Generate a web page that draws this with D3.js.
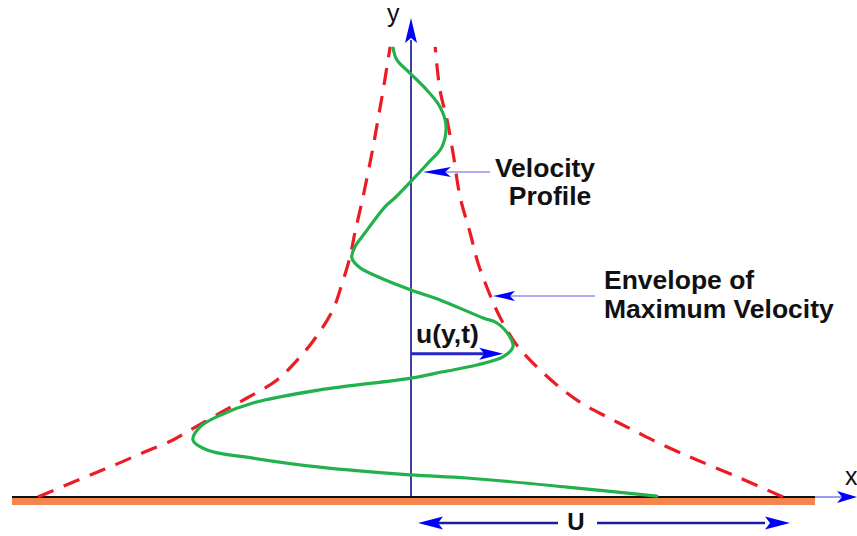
<!DOCTYPE html>
<html>
<head>
<meta charset="utf-8">
<script src="https://cdn.jsdelivr.net/npm/d3@7"></script>
<style>
html,body{margin:0;padding:0;background:#fff;}
svg{display:block;}
text{font-family:"Liberation Sans",Arial,sans-serif;}
</style>
</head>
<body>
<svg id="chart" width="857" height="536"></svg>
<script>
// ---- data (u in units of U, eta = height above the plate, arbitrary units) ----
const profileU   = [-0.048,-0.038,-0.003,0.043,0.078,0.094,0.083,0.046,0.003,-0.043,-0.070,-0.124,-0.151,-0.159,-0.137,-0.083,0.000,0.078,0.194,0.231,0.266,0.274,0.247,0.177,0.086,0.000,-0.245,-0.425,-0.513,-0.567,-0.586,-0.548,-0.425,-0.245,-0.003,0.151,0.419,0.661];
const profileEta = [9.93,9.67,9.38,9.00,8.63,8.23,7.74,7.39,7.01,6.62,6.42,5.84,5.53,5.29,5.07,4.85,4.58,4.36,3.96,3.85,3.54,3.32,3.10,2.92,2.77,2.63,2.37,2.08,1.81,1.55,1.26,1.04,0.86,0.66,0.49,0.42,0.22,0.02];

const envLeftU    = [-1.003,-0.876,-0.796,-0.715,-0.640,-0.594,-0.513,-0.441,-0.360,-0.298,-0.255,-0.210,-0.185,-0.164,-0.151,-0.129,-0.105,-0.089,-0.075,-0.056];
const envLeftEta  = [0,0.44,0.71,1.00,1.26,1.48,1.86,2.19,2.59,3.10,3.54,4.14,4.73,5.31,5.84,6.64,7.61,8.34,9.00,9.96];
const envRightU   = [1.000,0.884,0.769,0.677,0.597,0.527,0.454,0.392,0.320,0.280,0.239,0.207,0.180,0.159,0.132,0.113,0.097,0.078,0.065];
const envRightEta = [0,0.42,0.82,1.15,1.48,1.77,2.10,2.48,3.03,3.41,3.98,4.58,5.18,5.84,6.64,7.61,8.34,9.00,9.96];

// sample velocity u(y,t) shown by the arrow
const sampleU = [0.248];
const sampleEta = [3.17];

const labelVelocity = ["Velocity","Profile"];
const labelEnvelope = ["Envelope of","Maximum Velocity"];
const labelSample = "u(y,t)";
const labelU = "U";
const axisNames = ["x","y"];

// ---- drawing ----
const svg = d3.select("#chart");
const x = d3.scaleLinear().domain([0,1]).range([411,783]);
const y = d3.scaleLinear().domain([0,10]).range([497,45]);

const BLUE = "#0000ff", NAVY = "#000080", THIN = "#5a5ae6";
const FS = 26.5;

function arrowHead(g, tx, ty, angle, L, W, n, color){
  g.append("path")
    .attr("d", `M0,0 L${-L},${-W} L${-L+n},0 L${-L},${W} Z`)
    .attr("transform", `translate(${tx},${ty}) rotate(${angle})`)
    .attr("fill", color);
}

// plate
svg.append("rect").attr("x",12).attr("y",y(0)).attr("width",815-12).attr("height",8).attr("fill","#f4854c");
svg.append("line").attr("x1",12).attr("x2",815).attr("y1",y(0)).attr("y2",y(0)).attr("stroke","#111").attr("stroke-width",2);
// x-axis continuation
svg.append("line").attr("x1",815).attr("x2",845).attr("y1",y(0)).attr("y2",y(0)).attr("stroke",THIN).attr("stroke-width",1.2);
arrowHead(svg, 857, y(0), 0, 20, 6, 5, BLUE);
svg.append("text").attr("x",845).attr("y",y(0)-12).attr("font-size",25).attr("fill","#111").text(axisNames[0]);

// y axis
svg.append("line").attr("x1",x(0)).attr("x2",x(0)).attr("y1",y(0)).attr("y2",40).attr("stroke",NAVY).attr("stroke-width",1.5);
arrowHead(svg, x(0), 18, -90, 25, 6, 5, BLUE);
svg.append("text").attr("x",387).attr("y",22).attr("font-size",25).attr("fill","#111").text(axisNames[1]);

// envelope
const envLine = d3.line().x(d=>x(d[0])).y(d=>y(d[1])).curve(d3.curveCatmullRom.alpha(0.5));
const envStyle = p => p.attr("fill","none").attr("stroke","#ec1c24").attr("stroke-width",3.2).attr("stroke-dasharray","17,11");
svg.append("path").datum(d3.zip(envLeftU, envLeftEta)).attr("d", envLine).call(envStyle);
svg.append("path").datum(d3.zip(envRightU, envRightEta)).attr("d", envLine).call(envStyle);

// profile
svg.append("path").datum(d3.zip(profileU, profileEta))
  .attr("d", d3.line().x(d=>x(d[0])).y(d=>y(d[1])).curve(d3.curveCatmullRom.alpha(0.5)))
  .attr("fill","none").attr("stroke","#22b14c").attr("stroke-width",3.2).attr("stroke-linecap","round");

// u(y,t) arrow
const sy = y(sampleEta[0]);
svg.append("line").attr("x1",x(0)).attr("x2",x(sampleU[0])-18).attr("y1",sy).attr("y2",sy).attr("stroke","#2525c8").attr("stroke-width",3);
arrowHead(svg, x(sampleU[0]), sy, 0, 24, 6, 5, BLUE);
svg.append("text").attr("x",416).attr("y",sy-11).attr("font-size",FS).attr("font-weight","bold").attr("fill","#111").text(labelSample);

// U arrow
const uy = 523;
svg.append("line").attr("x1",x(0)+25).attr("x2",558).attr("y1",uy).attr("y2",uy).attr("stroke","#1c1ca0").attr("stroke-width",2.5);
svg.append("line").attr("x1",597).attr("x2",x(1)-18).attr("y1",uy).attr("y2",uy).attr("stroke","#1c1ca0").attr("stroke-width",2.5);
arrowHead(svg, 418, uy, 180, 25, 6.5, 5, BLUE);
arrowHead(svg, 790, uy, 0, 25, 6.5, 5, BLUE);
svg.append("text").attr("x",576).attr("y",530).attr("text-anchor","middle").attr("font-size",24).attr("font-weight","bold").attr("fill","#111").text(labelU);

// Velocity Profile annotation
svg.append("line").attr("x1",490).attr("x2",445).attr("y1",172).attr("y2",172).attr("stroke",THIN).attr("stroke-width",1.2);
arrowHead(svg, 423, 172, 180, 28, 5, 6, BLUE);
svg.append("text").attr("x",545).attr("y",177).attr("text-anchor","middle").attr("font-size",FS).attr("font-weight","bold").attr("fill","#111").text(labelVelocity[0]);
svg.append("text").attr("x",550).attr("y",205).attr("text-anchor","middle").attr("font-size",FS).attr("font-weight","bold").attr("fill","#111").text(labelVelocity[1]);

// Envelope annotation
svg.append("line").attr("x1",595).attr("x2",510).attr("y1",296).attr("y2",296).attr("stroke",THIN).attr("stroke-width",1.2);
arrowHead(svg, 493, 296, 180, 22, 5, 5, BLUE);
svg.append("text").attr("x",604).attr("y",289).attr("font-size",FS).attr("font-weight","bold").attr("fill","#111").text(labelEnvelope[0]);
svg.append("text").attr("x",604).attr("y",318).attr("font-size",FS).attr("font-weight","bold").attr("fill","#111").text(labelEnvelope[1]);
</script>
</body>
</html>
